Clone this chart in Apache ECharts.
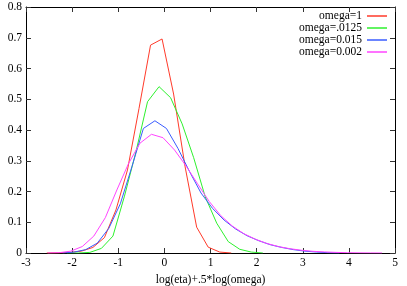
<!DOCTYPE html>
<html>
<head>
<meta charset="utf-8">
<script src="https://cdn.jsdelivr.net/npm/echarts@6/dist/echarts.min.js"></script>
<style>html,body{margin:0;padding:0;background:#fff}#c{width:407px;height:286px}</style>
</head>
<body>
<div id="c"></div>
<script>
const seriesNames = ['omega=1', 'omega=.0125', 'omega=0.015', 'omega=0.002'];
const xTickLabels = ['-3','-2','-1','0','1','2','3','4','5'];
const yTickLabels = ['0','0.1','0.2','0.3','0.4','0.5','0.6','0.7','0.8'];

const redX = [-2.55,-2.3,-2.05,-1.8,-1.55,-1.3,-1.05,-0.8,-0.55,-0.3,-0.05,0.2,0.45,0.7,0.95,1.2,1.45];
const redY = [0,0.0005,0.002,0.006,0.018,0.05,0.14,0.27,0.47,0.676,0.696,0.517,0.28,0.084,0.019,0.003,0];

const greenX = [-2.115,-1.865,-1.615,-1.365,-1.115,-0.865,-0.615,-0.365,-0.115,0.135,0.385,0.635,0.885,1.135,1.385,1.635,1.885,2.135];
const greenY = [0,0,0.002,0.015,0.055,0.185,0.33,0.492,0.541,0.505,0.42,0.31,0.183,0.097,0.037,0.012,0.003,0];

const blueX = [-2.205,-1.955,-1.705,-1.455,-1.205,-0.955,-0.705,-0.455,-0.205,0.045,0.295,0.545,0.795,1.045,1.295,1.545,1.795,2.045,2.295,2.545,2.795,3.045,3.295,3.545,3.795];
const blueY = [0,0.003,0.011,0.032,0.08,0.16,0.28,0.405,0.43,0.405,0.34,0.265,0.195,0.145,0.107,0.078,0.056,0.04,0.027,0.018,0.011,0.006,0.003,0.001,0];

const magentaX = [-2.53,-2.28,-2.03,-1.78,-1.53,-1.28,-1.03,-0.78,-0.53,-0.28,-0.03,0.22,0.47,0.72,0.97,1.22,1.47,1.72,1.97,2.22,2.47,2.72,2.97,3.22,3.47,3.72,3.97,4.22,4.47,4.72];
const magentaY = [0,0.001,0.006,0.021,0.055,0.115,0.205,0.29,0.357,0.386,0.375,0.335,0.283,0.225,0.168,0.122,0.088,0.063,0.045,0.031,0.021,0.014,0.009,0.0055,0.0035,0.002,0.001,0.0005,0.0002,0];

const colors = ['#ff3a2a', '#2ef02e', '#3a5cff', '#ff44ff'];
const xs = [redX, greenX, blueX, magentaX];
const ys = [redY, greenY, blueY, magentaY];

const font = 'Liberation Serif';
const fs = 11.5;
const chart = echarts.init(document.getElementById('c'), null, {renderer: 'canvas'});

function xAxisDef(pos, showLabel) {
  return {
    type: 'value', position: pos, min: -3, max: 5, interval: 1,
    axisLine: {show: true, onZero: false, lineStyle: {color: '#000', width: 1}},
    axisTick: {show: true, inside: true, length: 5, lineStyle: {color: '#333'}},
    axisLabel: {show: showLabel, color: '#000', fontFamily: font, fontSize: fs, margin: 4,
      formatter: v => xTickLabels[Math.round(v + 3)]},
    splitLine: {show: false},
    name: showLabel ? 'log(eta)+.5*log(omega)' : '',
    nameLocation: 'middle', nameGap: 19,
    nameTextStyle: {color: '#000', fontFamily: font, fontSize: fs}
  };
}
function yAxisDef(pos, showLabel) {
  return {
    type: 'value', position: pos, min: 0, max: 0.8, interval: 0.1,
    axisLine: {show: true, onZero: false, lineStyle: {color: '#000', width: 1}},
    axisTick: {show: true, inside: true, length: 5, lineStyle: {color: '#333'}},
    axisLabel: {show: showLabel, color: '#000', fontFamily: font, fontSize: fs, margin: 4,
      formatter: v => yTickLabels[Math.round(v * 10)]},
    splitLine: {show: false}
  };
}

chart.setOption({
  animation: false,
  color: colors,
  grid: {left: 26, right: 12, top: 7, bottom: 33, outerBoundsMode: 'none', containLabel: false},
  xAxis: [xAxisDef('bottom', true), xAxisDef('top', false)],
  yAxis: [yAxisDef('left', true), yAxisDef('right', false)],
  legend: {
    orient: 'vertical', align: 'right', right: 15, top: 5,
    itemWidth: 20, itemHeight: 1.5, itemGap: 0, icon: 'rect',
    data: seriesNames.map((n, i) => ({name: n, itemStyle: {color: colors[i], borderWidth: 0}})),
    textStyle: {color: '#000', fontFamily: font, fontSize: fs, lineHeight: 10.5}
  },
  series: seriesNames.map((n, i) => ({
    name: n, type: 'line', xAxisIndex: 0, yAxisIndex: 0,
    showSymbol: false, symbol: 'none',
    lineStyle: {width: 1, color: colors[i]},
    itemStyle: {color: colors[i]},
    data: xs[i].map((x, k) => [x, ys[i][k]])
  }))
});
</script>
</body>
</html>
